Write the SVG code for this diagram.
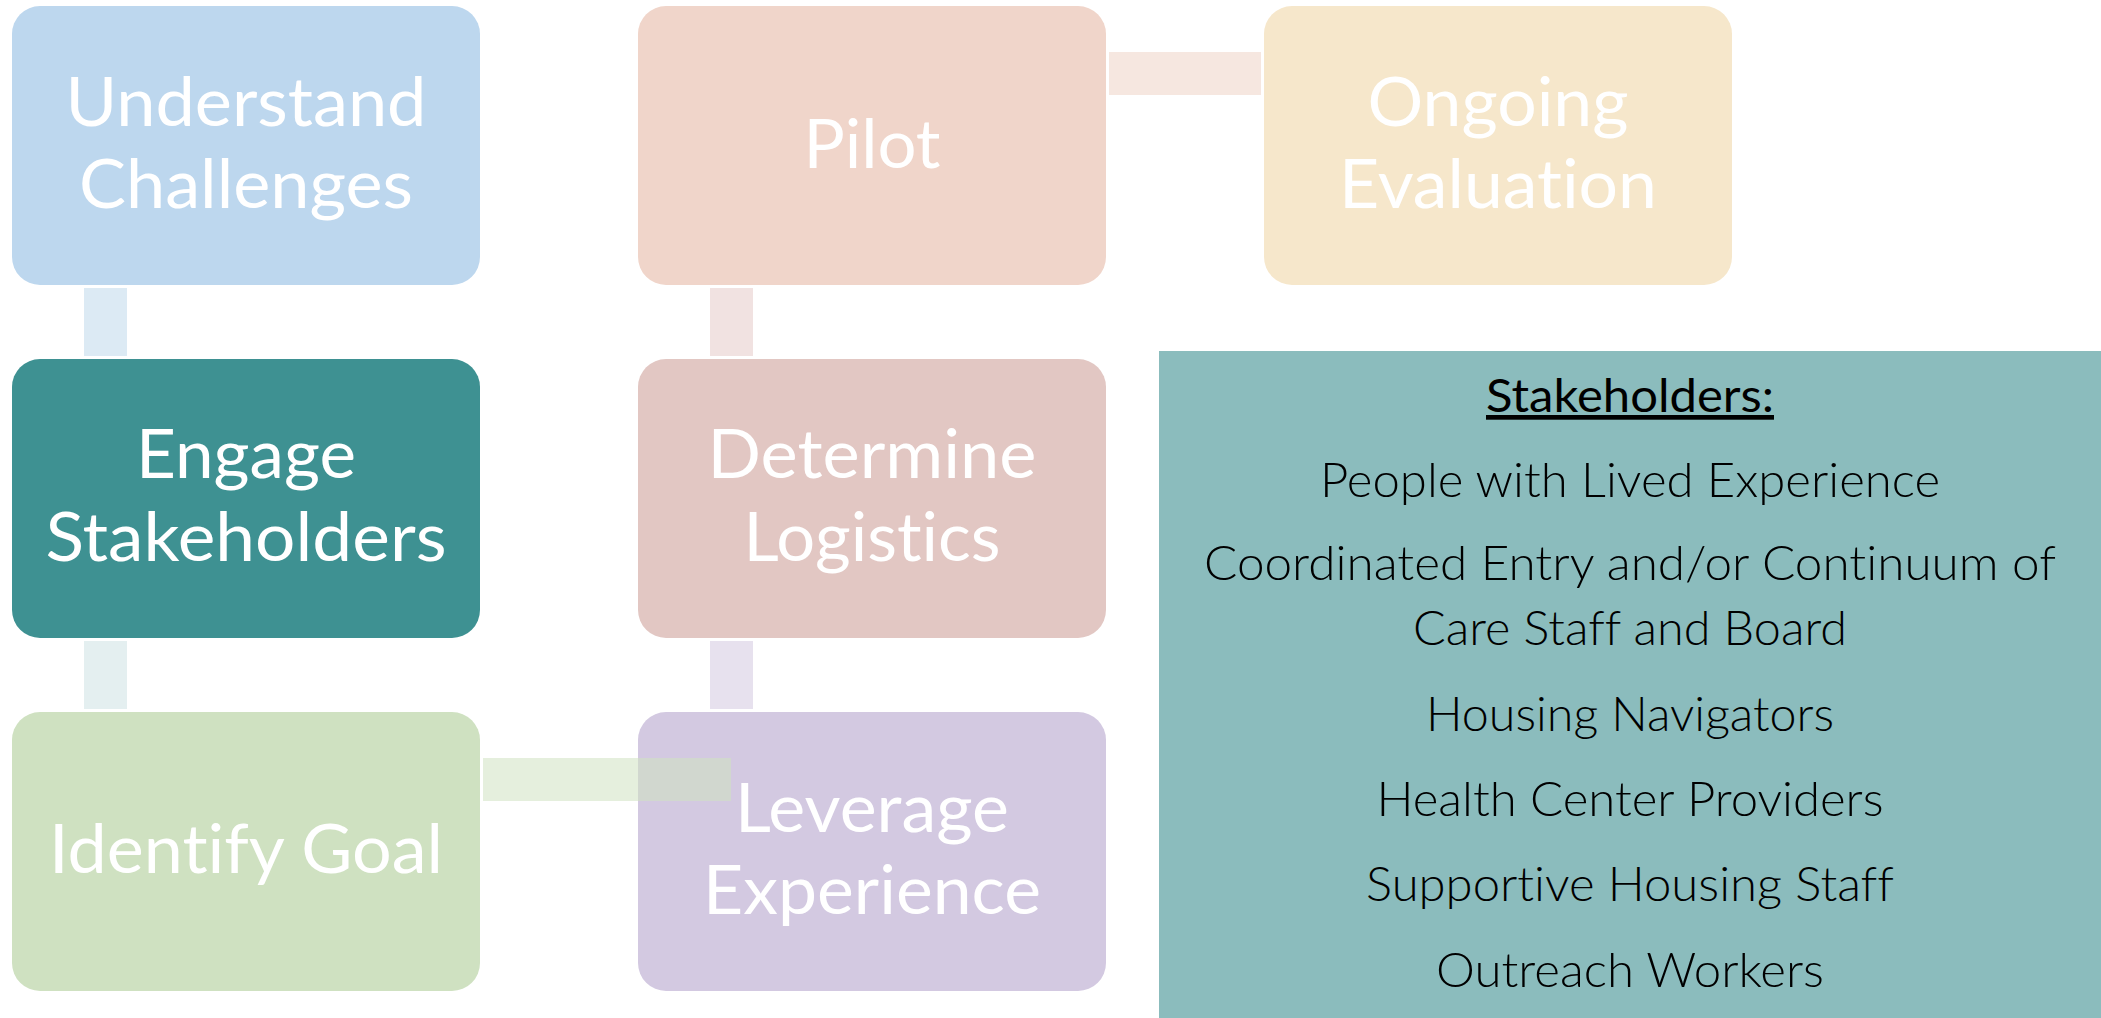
<svg xmlns="http://www.w3.org/2000/svg" width="2101" height="1018" viewBox="0 0 2101 1018">
<style>
text{font-variant-ligatures:none;font-feature-settings:"liga" 0,"clig" 0,"dlig" 0}
.box{stroke:none}
.nt{font-family:Lato,"Open Sans","Liberation Sans",sans-serif;font-size:68px;fill:#ffffff;text-anchor:middle;font-weight:400}
.pt{font-family:Lato,"Open Sans","Liberation Sans",sans-serif;font-size:47px;fill:#000000;text-anchor:middle;font-weight:300}
.ph{font-family:Lato,"Open Sans","Liberation Sans",sans-serif;font-size:47px;fill:#000000;text-anchor:middle;font-weight:400}
</style>
<rect width="2101" height="1018" fill="#ffffff"/>
<g id="understand">
<rect class="box" x="12" y="6" width="468" height="279" rx="28" fill="#bdd7ee"/>
<text class="nt" x="246" y="126" textLength="361" lengthAdjust="spacingAndGlyphs">Understand</text>
<text class="nt" x="246" y="208" textLength="334" lengthAdjust="spacingAndGlyphs">Challenges</text>
</g>
<g id="engage">
<rect class="box" x="12" y="359" width="468" height="279" rx="28" fill="#3e9192"/>
<text class="nt" x="246" y="478" textLength="220" lengthAdjust="spacingAndGlyphs">Engage</text>
<text class="nt" x="246" y="561" textLength="401" lengthAdjust="spacingAndGlyphs">Stakeholders</text>
</g>
<g id="identify">
<rect class="box" x="12" y="712" width="468" height="279" rx="28" fill="#cfe1c1"/>
<text class="nt" x="246" y="873" textLength="394" lengthAdjust="spacingAndGlyphs">Identify Goal</text>
</g>
<g id="leverage">
<rect class="box" x="638" y="712" width="468" height="279" rx="28" fill="#d3c9e1"/>
<text class="nt" x="872" y="832" textLength="274" lengthAdjust="spacingAndGlyphs">Leverage</text>
<text class="nt" x="872" y="914" textLength="338" lengthAdjust="spacingAndGlyphs">Experience</text>
</g>
<g id="determine">
<rect class="box" x="638" y="359" width="468" height="279" rx="28" fill="#e2c7c3"/>
<text class="nt" x="872" y="478" textLength="329" lengthAdjust="spacingAndGlyphs">Determine</text>
<text class="nt" x="872" y="561" textLength="257" lengthAdjust="spacingAndGlyphs">Logistics</text>
</g>
<g id="pilot">
<rect class="box" x="638" y="6" width="468" height="279" rx="28" fill="#f0d5ca"/>
<text class="nt" x="872" y="168" textLength="137" lengthAdjust="spacingAndGlyphs">Pilot</text>
</g>
<g id="ongoing">
<rect class="box" x="1264" y="6" width="468" height="279" rx="28" fill="#f6e7cb"/>
<text class="nt" x="1498" y="126" textLength="261" lengthAdjust="spacingAndGlyphs">Ongoing</text>
<text class="nt" x="1498" y="208" textLength="318" lengthAdjust="spacingAndGlyphs">Evaluation</text>
</g>
<g id="connectors">
<rect x="84" y="288" width="43" height="68" fill="#dceaf4"/>
<rect x="84" y="641" width="43" height="68" fill="#e4eff0"/>
<rect x="483" y="758" width="248" height="43" fill="#cfe1c1" fill-opacity="0.55"/>
<rect x="710" y="641" width="43" height="68" fill="#e7e1ee"/>
<rect x="710" y="288" width="43" height="68" fill="#f1e2e1"/>
<rect x="1109" y="52" width="152" height="43" fill="#f6e7e0"/>
</g>
<g id="stakeholders-panel">
<rect x="1159" y="351" width="942" height="667" fill="#8bbcbd"/>
<text class="ph" x="1630" y="412" textLength="288" lengthAdjust="spacingAndGlyphs" text-decoration="underline">Stakeholders:</text>
<text class="pt" x="1630" y="497" textLength="620" lengthAdjust="spacingAndGlyphs">People with Lived Experience</text>
<text class="pt" x="1630" y="580" textLength="852" lengthAdjust="spacingAndGlyphs">Coordinated Entry and/or Continuum of</text>
<text class="pt" x="1630" y="645" textLength="434" lengthAdjust="spacingAndGlyphs">Care Staff and Board</text>
<text class="pt" x="1630" y="731" textLength="408" lengthAdjust="spacingAndGlyphs">Housing Navigators</text>
<text class="pt" x="1630" y="816" textLength="507" lengthAdjust="spacingAndGlyphs">Health Center Providers</text>
<text class="pt" x="1630" y="901" textLength="528" lengthAdjust="spacingAndGlyphs">Supportive Housing Staff</text>
<text class="pt" x="1630" y="987" textLength="388" lengthAdjust="spacingAndGlyphs">Outreach Workers</text>
</g>
</svg>
